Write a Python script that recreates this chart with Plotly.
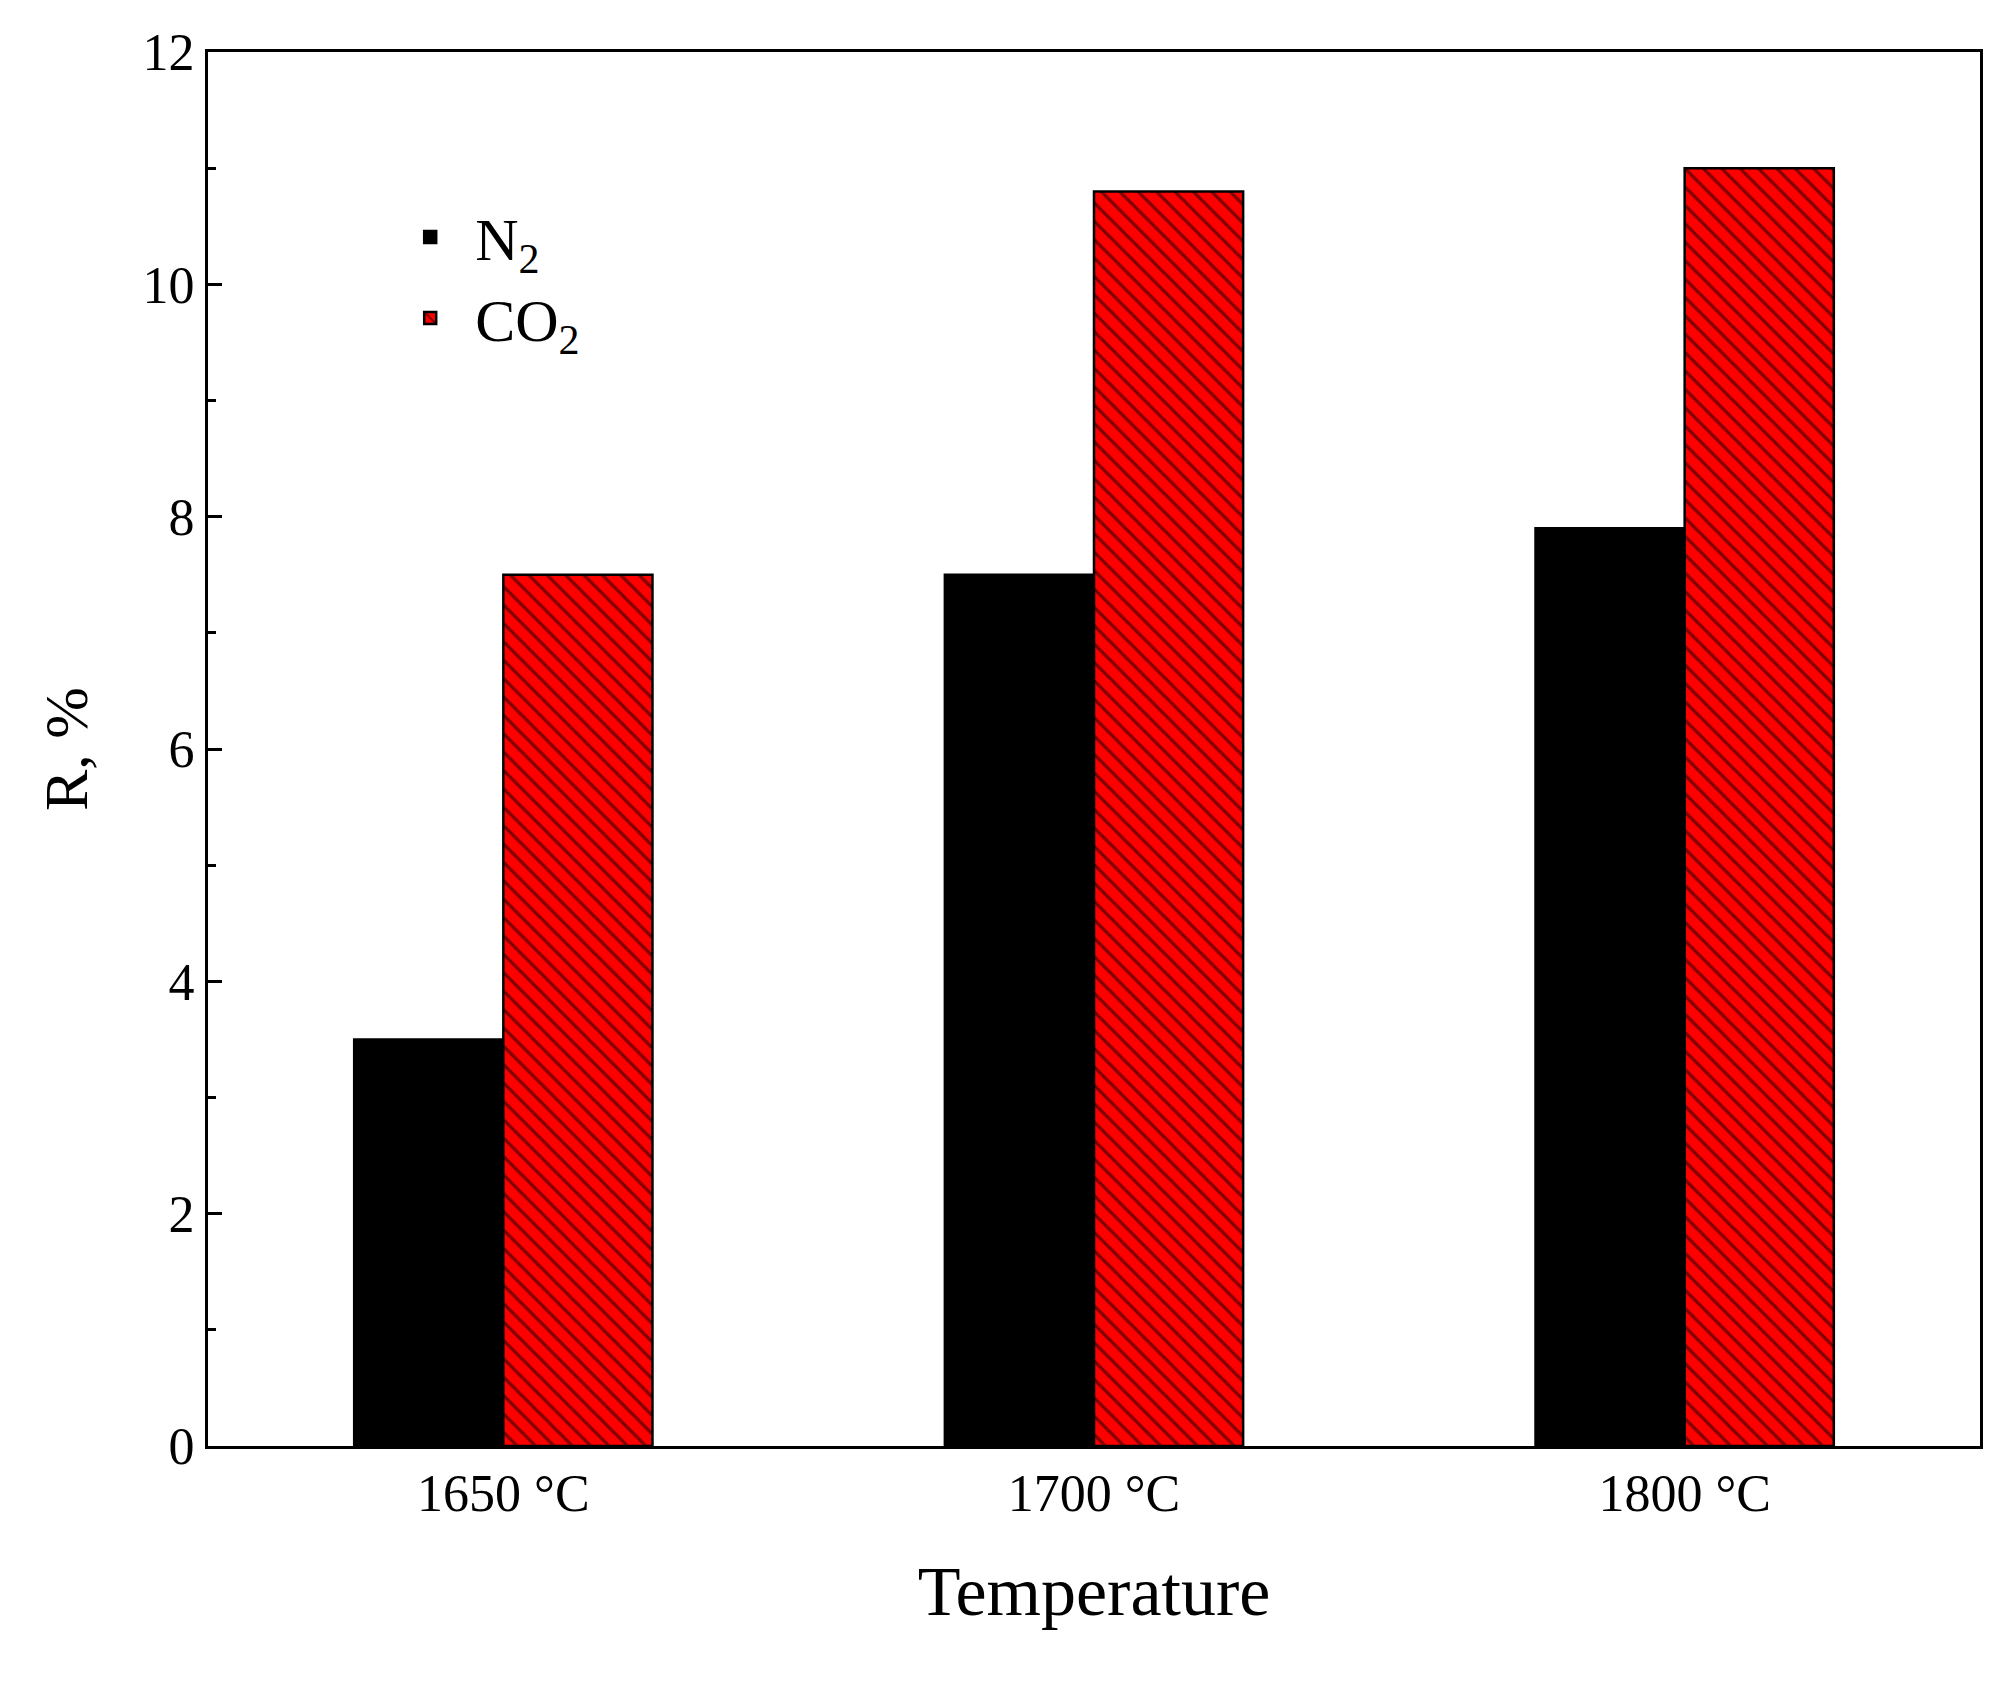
import plotly.graph_objects as go

categories = ["1650 °C", "1700 °C", "1800 °C"]
n2 = [3.5, 7.5, 7.9]
co2 = [7.5, 10.8, 11.0]

fig = go.Figure()
fig.add_bar(x=categories, y=n2, name="N<sub>2</sub>",
            marker=dict(color="black", line=dict(color="black", width=2.5)))
fig.add_bar(x=categories, y=co2, name="CO<sub>2</sub>",
            marker=dict(color="#ff0000", line=dict(color="black", width=2.5),
                        pattern=dict(shape="\\", fgcolor="black", bgcolor="#ff0000",
                                     fillmode="overlay", size=13, solidity=0.25)))

font = "Liberation Serif, Times New Roman, serif"
fig.update_layout(
    width=1998, height=1693, barmode="group", bargap=0.495, bargroupgap=0,
    plot_bgcolor="white", paper_bgcolor="white",
    margin=dict(l=200, r=26, t=44, b=255),
    font=dict(family=font, size=50, color="black"),
    legend=dict(x=0.1, y=0.9, xanchor="left", yanchor="top", bgcolor="rgba(0,0,0,0)",
                font=dict(size=60), itemwidth=80, tracegroupgap=20),
    xaxis=dict(showline=True, linecolor="black", linewidth=3, mirror=True,
               ticks="", title=dict(text="Temperature", font=dict(size=70), standoff=45),
               tickfont=dict(size=52),
               minor=dict(ticks="inside", ticklen=12, tickwidth=3, tickcolor="black", showgrid=False)),
    yaxis=dict(range=[0, 12], dtick=2, showline=True, linecolor="black", linewidth=3, mirror=True,
               ticks="inside", ticklen=14, tickwidth=3, tickcolor="black", showgrid=False, zeroline=False,
               tickfont=dict(size=52),
               title=dict(text="R, %", font=dict(size=62), standoff=35),
               minor=dict(dtick=1, ticks="inside", ticklen=8, tickwidth=3, tickcolor="black")),
)
fig.write_html("out.html")
